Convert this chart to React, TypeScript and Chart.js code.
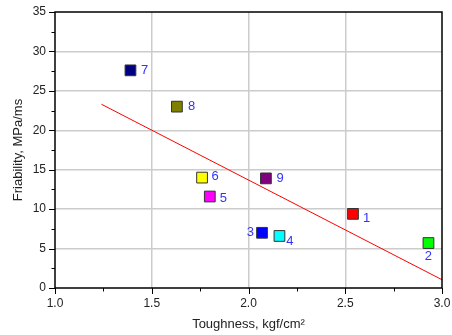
import React, { useEffect, useRef } from "react";
import { Chart, registerables } from "chart.js";

Chart.register(...registerables);

const sampleLabels = ["1", "2", "3", "4", "5", "6", "7", "8", "9"];
const toughness = [2.54, 2.93, 2.07, 2.16, 1.8, 1.76, 1.39, 1.63, 2.09];
const friability = [9.4, 5.7, 7.0, 6.6, 11.6, 14.0, 27.6, 23.0, 13.9];
const sampleColors = [
  "#ff0000",
  "#00ff00",
  "#0000ff",
  "#00ffff",
  "#ff00ff",
  "#ffff00",
  "#000080",
  "#808000",
  "#800080",
];
const fitX = [1.24, 3.0];
const fitY = [23.3, 1.05];
const xTickValues = [1.0, 1.5, 2.0, 2.5, 3.0];
const yTickValues = [0, 5, 10, 15, 20, 25, 30, 35];

// label placement relative to each marker (dx, dy, align)
const labelDx = [10, 0, -8, 6.7, 10, 9.4, 10.5, 11, 10.7];
const labelDy = [4.5, 13.7, 0, 5.7, 1.7, -1.3, 0, 0, 0];
const labelAlign: CanvasTextAlign[] = [
  "left",
  "center",
  "right",
  "left",
  "left",
  "left",
  "left",
  "left",
  "left",
];

const FONT = "'Liberation Sans', Arial, sans-serif";

const framePlugin = {
  id: "frameAndTicks",
  afterDatasetsDraw(chart: any) {
    const { ctx, chartArea, scales } = chart;
    const { left, right, top, bottom } = chartArea;
    ctx.save();
    ctx.strokeStyle = "#000";
    ctx.lineWidth = 1.5;
    ctx.beginPath();
    ctx.rect(left, top, right - left, bottom - top);
    ctx.stroke();
    ctx.lineWidth = 1;
    ctx.beginPath();
    const xs = scales.x;
    const ys = scales.y;
    for (let v = 1.0; v <= 3.0001; v += 0.25) {
      const px = Math.round(xs.getPixelForValue(v)) + 0.5;
      const major = Math.abs(v * 2 - Math.round(v * 2)) < 1e-6;
      ctx.moveTo(px, bottom);
      ctx.lineTo(px, bottom + (major ? 6 : 3.5));
    }
    for (let v = 0; v <= 35.0001; v += 2.5) {
      const py = Math.round(ys.getPixelForValue(v)) + 0.5;
      const major = Math.abs(v / 5 - Math.round(v / 5)) < 1e-6;
      ctx.moveTo(left, py);
      ctx.lineTo(left - (major ? 6 : 3.5), py);
    }
    ctx.stroke();

    // point labels
    const meta = chart.getDatasetMeta(1);
    ctx.fillStyle = "#3333ff";
    ctx.font = `13px ${FONT}`;
    ctx.textBaseline = "middle";
    meta.data.forEach((el: any, i: number) => {
      ctx.textAlign = labelAlign[i];
      ctx.fillText(sampleLabels[i], el.x + labelDx[i], el.y + labelDy[i]);
    });
    ctx.restore();
  },
};

export default function App() {
  const canvasRef = useRef<HTMLCanvasElement | null>(null);

  useEffect(() => {
    document.body.style.margin = "0";
    const canvas = canvasRef.current;
    if (!canvas) return;
    const chart = new Chart(canvas, {
      type: "scatter",
      data: {
        datasets: [
          {
            type: "line",
            label: "fit",
            data: fitX.map((x, i) => ({ x, y: fitY[i] })),
            borderColor: "#ff0000",
            borderWidth: 1,
            pointRadius: 0,
            fill: false,
          } as any,
          {
            label: "samples",
            data: toughness.map((x, i) => ({ x, y: friability[i] })),
            pointStyle: "rect",
            pointRadius: 7.6,
            pointHoverRadius: 7.6,
            pointBackgroundColor: sampleColors,
            pointBorderColor: "#333333",
            pointBorderWidth: 1,
            showLine: false,
          },
        ],
      },
      options: {
        animation: false,
        responsive: false,
        devicePixelRatio: 1,
        layout: { padding: { top: 12, right: 10, left: 0, bottom: 0 } },
        plugins: {
          legend: { display: false },
          tooltip: { enabled: false },
        },
        scales: {
          x: {
            type: "linear",
            min: 1,
            max: 3,
            afterBuildTicks: (scale: any) => {
              scale.ticks = xTickValues.map((value) => ({ value }));
            },
            afterFit: (scale: any) => {
              scale.height = 47;
              scale.paddingLeft = 0;
              scale.paddingRight = 0;
            },
            ticks: {
              callback: (v: any) => Number(v).toFixed(1),
              font: { family: FONT, size: 12 },
              color: "#222",
              padding: 8,
              maxRotation: 0,
            },
            grid: {
              drawTicks: false,
              color: (c: any) =>
                c.tick && (c.tick.value === 1 || c.tick.value === 3)
                  ? "rgba(0,0,0,0)"
                  : "#cccccc",
              lineWidth: 1.5,
            },
            border: { display: false },
            title: {
              display: true,
              text: "Toughness, kgf/cm²",
              font: { family: FONT, size: 13 },
              color: "#222",
              padding: { top: 0, bottom: 3 },
            },
          },
          y: {
            type: "linear",
            min: 0,
            max: 35,
            afterBuildTicks: (scale: any) => {
              scale.ticks = yTickValues.map((value) => ({ value }));
            },
            afterFit: (scale: any) => {
              scale.width = 55;
              scale.paddingTop = 0;
              scale.paddingBottom = 0;
            },
            ticks: {
              callback: (v: any) => String(v),
              font: { family: FONT, size: 12 },
              color: "#222",
              padding: 9,
            },
            grid: {
              drawTicks: false,
              color: (c: any) =>
                c.tick && (c.tick.value === 0 || c.tick.value === 35)
                  ? "rgba(0,0,0,0)"
                  : "#cccccc",
              lineWidth: 1.5,
            },
            border: { display: false },
            title: {
              display: true,
              text: "Friability, MPa/ms",
              font: { family: FONT, size: 13 },
              color: "#222",
              padding: { top: 11, bottom: 0 },
            },
          },
        },
      },
      plugins: [framePlugin],
    });
    return () => chart.destroy();
  }, []);

  return (
    <div style={{ width: 452, height: 335, position: "relative" }}>
      <canvas ref={canvasRef} width={452} height={335} style={{ display: "block" }} />
    </div>
  );
}
